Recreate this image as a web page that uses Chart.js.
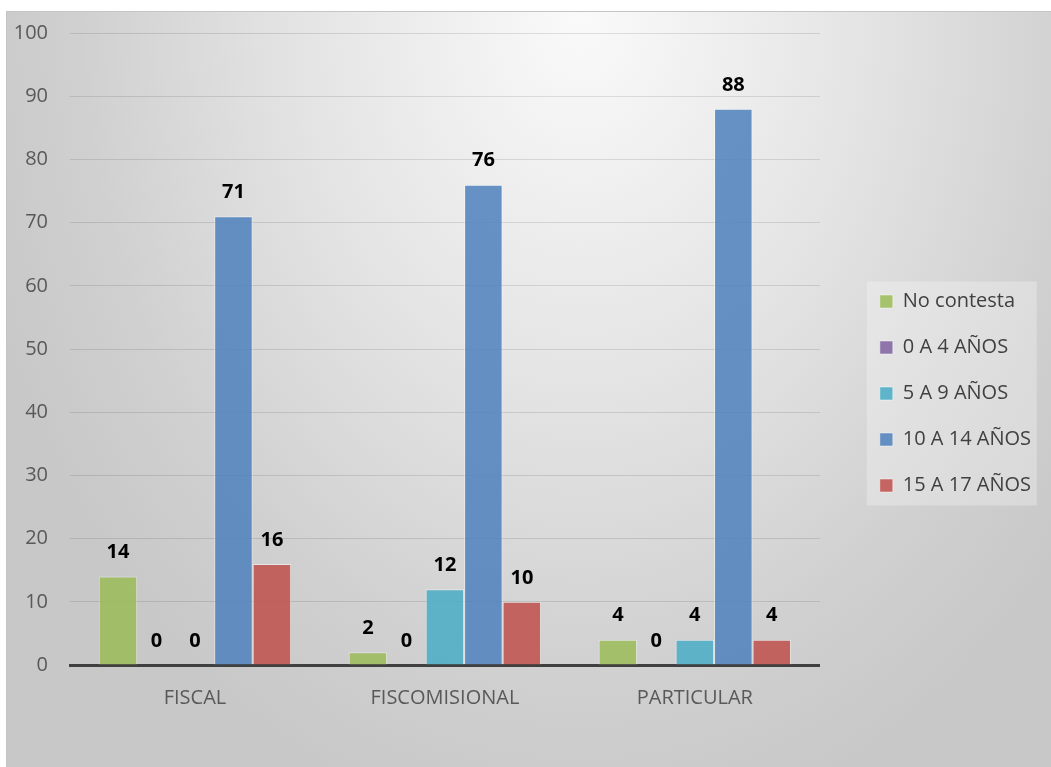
<!DOCTYPE html>
<html>
<head>
<meta charset="utf-8">
<title>Edad por tipo de institución</title>
<script src="https://cdn.jsdelivr.net/npm/chart.js@4.4.1/dist/chart.umd.min.js"></script>
<style>
  html, body { margin: 0; padding: 0; background: #fff; }
  #frame {
    position: absolute; left: 6px; top: 11px;
    width: 1044px; height: 755px;
    border-top: 1px solid #c4c4c4; border-left: 1px solid #c4c4c4;
    background: radial-gradient(ellipse 60% 110% at 55% 0%, #fafafa 0%, #e4e4e4 45%, #d0d0d0 80%, #c8c8c8 100%);
  }
</style>
</head>
<body>
<div id="frame"><canvas id="chart" width="1044" height="755"></canvas></div>
<script>
const categories = ['FISCAL', 'FISCOMISIONAL', 'PARTICULAR'];
const noContesta = [14, 2, 4];
const edad0a4 = [0, 0, 0];
const edad5a9 = [0, 12, 4];
const edad10a14 = [71, 76, 88];
const edad15a17 = [16, 10, 4];
const yTicks = [0, 10, 20, 30, 40, 50, 60, 70, 80, 90, 100];

const FONT = "'Open Sans', sans-serif";

const makeSet = (label, data, rgb) => ({
    label: label,
    data: data,
    backgroundColor: 'rgba(' + rgb + ',0.86)',
    borderColor: 'rgba(255,255,255,0.45)',
    borderWidth: 1
});

// value labels above each bar
const barLabels = {
    id: 'barLabels',
    afterDatasetsDraw(chart) {
        const ctx = chart.ctx;
        ctx.save();
        ctx.font = 'bold 20px ' + FONT;
        ctx.fillStyle = '#000';
        ctx.textAlign = 'center';
        ctx.textBaseline = 'middle';
        chart.data.datasets.forEach((ds, i) => {
            chart.getDatasetMeta(i).data.forEach((bar, j) => {
                ctx.fillText(String(ds.data[j]), bar.x, bar.y - 24);
            });
        });
        ctx.restore();
    }
};

// lighter panel behind the legend
const legendPanel = {
    id: 'legendPanel',
    beforeDraw(chart) {
        const boxes = chart.legend && chart.legend.legendHitBoxes;
        if (!boxes || !boxes.length) return;
        const first = boxes[0], last = boxes[boxes.length - 1];
        const top = first.top - 10;
        const ctx = chart.ctx;
        ctx.save();
        ctx.fillStyle = 'rgba(255,255,255,0.28)';
        ctx.fillRect(first.left - 13, top, 170, last.top + last.height + 10 - top);
        ctx.restore();
    }
};

new Chart(document.getElementById('chart'), {
    type: 'bar',
    data: {
        labels: categories,
        datasets: [
            makeSet('No contesta', noContesta, '155,187,89'),
            makeSet('0 A 4 AÑOS', edad0a4, '128,100,162'),
            makeSet('5 A 9 AÑOS', edad5a9, '75,172,198'),
            makeSet('10 A 14 AÑOS', edad10a14, '79,129,189'),
            makeSet('15 A 17 AÑOS', edad15a17, '192,80,77')
        ]
    },
    options: {
        responsive: false,
        animation: false,
        layout: { padding: { top: 8, right: 10, bottom: 0, left: 0 } },
        datasets: {
            bar: { categoryPercentage: 0.77, barPercentage: 1 }
        },
        plugins: {
            legend: {
                position: 'right',
                align: 'center',
                maxWidth: 260,
                labels: {
                    boxWidth: 13,
                    boxHeight: 13,
                    padding: 26,
                    color: '#404040',
                    font: { family: FONT, size: 20 }
                }
            },
            tooltip: { enabled: false }
        },
        scales: {
            x: {
                grid: { display: false },
                border: { color: '#404040', width: 3 },
                ticks: { color: '#595959', padding: 13, font: { family: FONT, size: 20 } },
                afterFit: s => { s.height = 102; }
            },
            xTop: {
                type: 'category',
                position: 'top',
                grid: { display: false },
                border: { display: false },
                ticks: { display: false },
                afterFit: s => { s.height = 13; }
            },
            y: {
                min: 0,
                max: 100,
                grid: { color: 'rgba(0,0,0,0.11)', drawTicks: true, tickLength: 22, tickColor: 'rgba(0,0,0,0)' },
                border: { display: false },
                afterBuildTicks: s => { s.ticks = yTicks.map(v => ({ value: v })); },
                ticks: { color: '#595959', padding: 0, font: { family: FONT, size: 20 } },
                afterFit: s => { s.width = 63; }
            },
            yRight: {
                type: 'linear',
                position: 'right',
                grid: { display: false },
                border: { display: false },
                ticks: { display: false },
                afterFit: s => { s.width = 34; }
            }
        }
    },
    plugins: [legendPanel, barLabels]
});
</script>
</body>
</html>
